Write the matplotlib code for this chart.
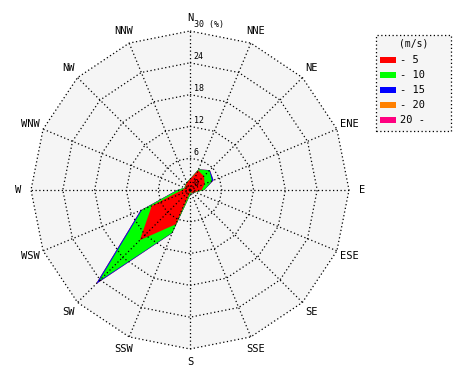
import numpy as np
import matplotlib
matplotlib.use("Agg")
import matplotlib.pyplot as plt
from matplotlib.patches import Polygon, Rectangle

## Data: frequency (%) of each speed class by direction
directions = ["N", "NNE", "NE", "ENE", "E", "ESE", "SE", "SSE",
              "S", "SSW", "SW", "WSW", "W", "WNW", "NW", "NNW"]
speed_labels = ["- 5", "- 10", "- 15", "- 20", "20 -"]
speed_colors = ["#ff0000", "#00ff00", "#0000ff", "#ff8000", "#ff0080"]

freq_0_5 = [2.0, 4.0, 3.7, 3.0, 2.2, 1.0, 0.8, 0.5, 0.5, 7.0, 13.4, 7.8, 1.5, 1.0, 1.2, 1.5]
freq_5_10 = [0.1, 0.2, 1.5, 1.5, 0.5, 0.1, 0.0, 0.1, 0.5, 1.7, 10.9, 2.0, 0.8, 0.1, 0.1, 0.1]
freq_10_15 = [0.0, 0.0, 0.1, 0.3, 0.0, 0.0, 0.0, 0.0, 0.0, 0.1, 0.8, 0.3, 0.1, 0.0, 0.0, 0.0]
freq_15_20 = [0.0] * 16
freq_20_up = [0.0] * 16

ring_ticks = [0, 6, 12, 18, 24, 30]
r_max = 30

## Set up
px = 5.3  # pixels per percent
fig = plt.figure(figsize=(4.7, 3.8), dpi=100)
ax = fig.add_axes([0, 0, 1, 1])
ax.set_xlim(-190 / px, 280 / px)
ax.set_ylim(-190 / px, 190 / px)
ax.axis("off")

theta = np.deg2rad(np.arange(16) * 22.5)
sx, sy = np.sin(theta), np.cos(theta)
mono = "DejaVu Sans Mono"
dotted = (0, (1, 2))

# background polygon
ax.add_patch(Polygon(np.c_[r_max * sx, r_max * sy], closed=True,
                     facecolor="#f5f5f5", edgecolor="none", zorder=0))

# stacked (cumulative) wind rose, drawn from the outer class inwards
classes = [freq_0_5, freq_5_10, freq_10_15, freq_15_20, freq_20_up]
cum = np.cumsum(np.array(classes), axis=0)
for k in range(len(classes) - 1, -1, -1):
    r = cum[k]
    if r.max() <= 0:
        continue
    ax.add_patch(Polygon(np.c_[r * sx, r * sy], closed=True,
                         facecolor=speed_colors[k], edgecolor="none", zorder=2))

# grid: polygon rings and spokes
for t in ring_ticks[1:]:
    xs = np.append(t * sx, t * sx[0])
    ys = np.append(t * sy, t * sy[0])
    ax.plot(xs, ys, color="black", lw=0.9, linestyle=dotted, zorder=3)
for i in range(16):
    ax.plot([0, r_max * sx[i]], [0, r_max * sy[i]], color="black", lw=0.9,
            linestyle=dotted, zorder=3)

# ring labels
for t in ring_ticks:
    lab = "30 (%)" if t == r_max else str(t)
    ax.text(0.7, t + 0.3, lab, fontsize=6, family=mono, ha="left", va="bottom", zorder=4)

# direction labels
for i, d in enumerate(directions):
    ax.text(32.5 * sx[i], 32.5 * sy[i], d, fontsize=7.5, family=mono,
            ha="center", va="center")

## Legend (figure pixel positions)
W, H = 470, 380
def fx(x):
    return x / W
def fy(y):
    return 1 - y / H

fig.patches.append(Rectangle((fx(376), fy(131)), 75 / W, 96 / H, transform=fig.transFigure,
                             facecolor="#f5f5f5", edgecolor="black", lw=0.9,
                             linestyle=dotted, figure=fig))
fig.text(fx(414), fy(43), "(m/s)", fontsize=7, family=mono, ha="center", va="center")
for j, (lab, c) in enumerate(zip(speed_labels, speed_colors)):
    yy = 60 + 15 * j
    fig.patches.append(Rectangle((fx(380), fy(yy + 2.5)), 16 / W, 5 / H,
                                 transform=fig.transFigure, facecolor=c,
                                 edgecolor="none", figure=fig))
    fig.text(fx(400), fy(yy), lab, fontsize=7.5, family=mono, ha="left", va="center")

fig.savefig("out.png", dpi=100, facecolor="white")
